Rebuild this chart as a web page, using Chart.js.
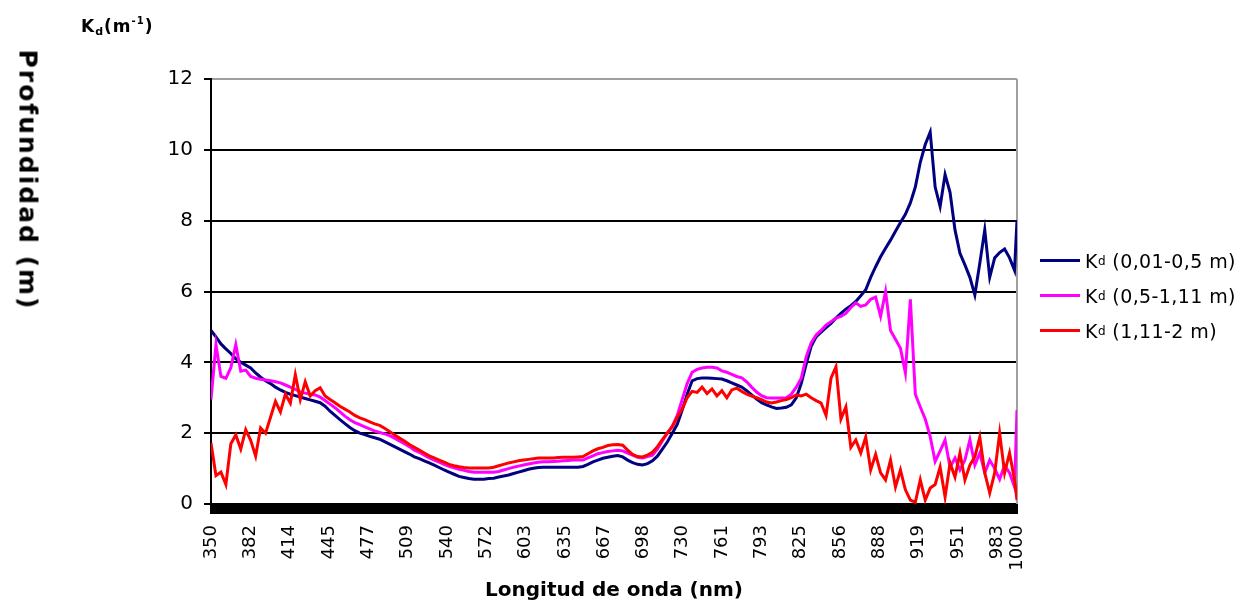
<!DOCTYPE html>
<html>
<head>
<meta charset="utf-8">
<script src="https://cdn.jsdelivr.net/npm/chart.js@4"></script>
<style>
  body { margin: 0; background: #fff; }
  #wrap { position: relative; width: 1249px; height: 604px; overflow: hidden; }
  #grafico { position: absolute; left: 0; top: 0; }
  .ytitle {
    position: absolute; left: 28px; top: 180px;
    transform: translate(-50%, -50%) rotate(90deg);
    font: bold 25px "DejaVu Sans", sans-serif; letter-spacing: 2px; white-space: pre; color: #000;
  }
  .unidad { position: absolute; left: 81px; top: 15px; font: bold 17px "DejaVu Sans", sans-serif; color: #000; letter-spacing: 1px; }
  .unidad sub { font-size: 11px; vertical-align: -3px; }
  .unidad sup { font-size: 10px; vertical-align: 8px; }
  .leyenda { position: absolute; left: 1040px; top: 243px; font: 19px "DejaVu Sans", sans-serif; letter-spacing: 0.4px; color: #000; }
  .leyenda div { height: 35px; display: flex; align-items: center; white-space: nowrap; }
  .leyenda span.linea { display: inline-block; width: 40px; height: 3px; margin-right: 5px; }
  .leyenda sub { font-size: 12px; vertical-align: -6px; }
</style>
</head>
<body>
<div id="wrap">
  <canvas id="grafico" width="1249" height="604"></canvas>
  <div class="ytitle">Profundidad (m)</div>
  <div class="unidad">K<sub>d</sub>(m<sup>-1</sup>)</div>
  <div class="leyenda" id="leyenda"></div>
</div>
<script>
// longitudes de onda (nm)
const longitudes = [
  350, 354, 358, 362, 366, 370, 374, 378, 382, 386, 390, 394, 398, 402, 406, 410, 414, 418, 422, 426,
  430, 434, 438, 442, 446, 450, 454, 458, 462, 466, 470, 474, 478, 482, 486, 490, 494, 498, 502, 506,
  510, 514, 518, 522, 526, 530, 534, 538, 542, 546, 550, 554, 558, 562, 566, 570, 574, 578, 582, 586,
  590, 594, 598, 602, 606, 610, 614, 618, 622, 626, 630, 634, 638, 642, 646, 650, 654, 658, 662, 666,
  670, 674, 678, 682, 686, 690, 694, 698, 702, 706, 710, 714, 718, 722, 726, 730, 734, 738, 742, 746,
  750, 754, 758, 762, 766, 770, 774, 778, 782, 786, 790, 794, 798, 802, 806, 810, 814, 818, 822, 826,
  830, 834, 838, 842, 846, 850, 854, 858, 862, 866, 870, 874, 878, 882, 886, 890, 894, 898, 902, 906,
  910, 914, 918, 922, 926, 930, 934, 938, 942, 946, 950, 954, 958, 962, 966, 970, 974, 978, 982, 986,
  990, 994, 998, 1000
];

// Kd 0,01-0,5 m
const kdSup = [
  4.90, 4.72, 4.52, 4.38, 4.25, 4.10, 4.00, 3.92, 3.84, 3.70, 3.58, 3.48, 3.40, 3.30, 3.22, 3.15, 3.10, 3.06, 3.02, 2.98,
  2.94, 2.90, 2.86, 2.76, 2.62, 2.50, 2.38, 2.27, 2.16, 2.07, 2.00, 1.96, 1.91, 1.87, 1.83, 1.76, 1.69, 1.62, 1.55, 1.48,
  1.41, 1.33, 1.28, 1.22, 1.16, 1.10, 1.03, 0.96, 0.90, 0.84, 0.78, 0.75, 0.72, 0.70, 0.70, 0.70, 0.72, 0.73, 0.76, 0.79,
  0.82, 0.86, 0.90, 0.94, 0.98, 1.01, 1.03, 1.04, 1.04, 1.04, 1.04, 1.04, 1.04, 1.04, 1.04, 1.06, 1.12, 1.19, 1.24, 1.29,
  1.32, 1.35, 1.37, 1.33, 1.24, 1.17, 1.12, 1.10, 1.14, 1.22, 1.35, 1.55, 1.75, 2.00, 2.25, 2.65, 3.10, 3.48, 3.54, 3.56,
  3.56, 3.55, 3.54, 3.53, 3.48, 3.42, 3.36, 3.30, 3.20, 3.08, 2.96, 2.86, 2.80, 2.74, 2.70, 2.71, 2.73, 2.80, 3.00, 3.40,
  3.95, 4.45, 4.72, 4.85, 4.98, 5.10, 5.25, 5.38, 5.50, 5.60, 5.72, 5.88, 6.05, 6.40, 6.70, 6.98, 7.22, 7.45, 7.70, 7.95,
  8.18, 8.50, 8.95, 9.65, 10.15, 10.50, 8.95, 8.40, 9.30, 8.80, 7.74, 7.08, 6.75, 6.40, 5.90, 6.80, 7.74, 6.40, 6.95, 7.10,
  7.20, 6.95, 6.60, 8.02
];

// Kd 0,5-1,11 m
const kdMed = [
  2.95, 4.50, 3.60, 3.55, 3.85, 4.50, 3.75, 3.78, 3.60, 3.55, 3.52, 3.50, 3.48, 3.45, 3.42, 3.36, 3.30, 3.24, 3.16, 3.13,
  3.10, 3.08, 3.02, 2.92, 2.82, 2.72, 2.60, 2.48, 2.38, 2.30, 2.24, 2.18, 2.12, 2.06, 2.02, 1.98, 1.93, 1.86, 1.78, 1.70,
  1.62, 1.52, 1.46, 1.38, 1.30, 1.24, 1.18, 1.12, 1.06, 1.02, 0.98, 0.95, 0.92, 0.90, 0.90, 0.90, 0.90, 0.90, 0.92, 0.96,
  1.00, 1.04, 1.07, 1.10, 1.13, 1.16, 1.18, 1.19, 1.19, 1.20, 1.21, 1.22, 1.23, 1.24, 1.24, 1.24, 1.30, 1.36, 1.42, 1.45,
  1.48, 1.50, 1.52, 1.50, 1.44, 1.38, 1.32, 1.30, 1.34, 1.38, 1.55, 1.78, 2.00, 2.20, 2.50, 2.95, 3.40, 3.72, 3.80, 3.84,
  3.86, 3.86, 3.84, 3.76, 3.72, 3.66, 3.60, 3.56, 3.45, 3.30, 3.16, 3.06, 3.00, 2.99, 2.99, 2.99, 3.00, 3.10, 3.30, 3.55,
  4.15, 4.55, 4.77, 4.90, 5.05, 5.15, 5.25, 5.30, 5.38, 5.55, 5.68, 5.58, 5.62, 5.78, 5.84, 5.30, 6.00, 4.90, 4.65, 4.40,
  3.70, 5.78, 3.10, 2.74, 2.40, 1.90, 1.20, 1.50, 1.81, 1.04, 1.30, 0.96, 1.24, 1.81, 1.10, 1.44, 0.88, 1.24, 1.00, 0.70,
  1.10, 0.88, 0.48, 2.65
];

// Kd 1,11-2 m
const kdInf = [
  1.72, 0.80, 0.90, 0.55, 1.70, 1.95, 1.55, 2.10, 1.80, 1.35, 2.15, 2.00, 2.45, 2.90, 2.60, 3.10, 2.85, 3.65, 2.95, 3.45,
  3.05, 3.20, 3.28, 3.05, 2.95, 2.86, 2.76, 2.68, 2.60, 2.50, 2.43, 2.38, 2.32, 2.26, 2.22, 2.14, 2.05, 1.95, 1.86, 1.78,
  1.68, 1.60, 1.52, 1.44, 1.36, 1.30, 1.24, 1.18, 1.12, 1.08, 1.05, 1.03, 1.02, 1.02, 1.02, 1.02, 1.02, 1.04, 1.08, 1.12,
  1.16, 1.19, 1.22, 1.24, 1.26, 1.28, 1.30, 1.30, 1.30, 1.30, 1.31, 1.32, 1.32, 1.32, 1.33, 1.34, 1.42, 1.50, 1.56, 1.60,
  1.65, 1.67, 1.68, 1.66, 1.52, 1.40, 1.34, 1.33, 1.38, 1.46, 1.62, 1.82, 2.00, 2.18, 2.45, 2.68, 3.00, 3.18, 3.15, 3.30,
  3.12, 3.25, 3.05, 3.20, 3.00, 3.22, 3.27, 3.18, 3.10, 3.05, 3.00, 2.95, 2.88, 2.85, 2.88, 2.92, 2.95, 3.00, 3.08, 3.05,
  3.10, 3.00, 2.92, 2.85, 2.50, 3.55, 3.87, 2.40, 2.74, 1.60, 1.81, 1.44, 1.89, 0.96, 1.40, 0.88, 0.68, 1.24, 0.48, 0.96,
  0.40, 0.11, 0.05, 0.68, 0.11, 0.45, 0.55, 1.04, 0.20, 1.16, 0.76, 1.44, 0.68, 1.10, 1.33, 1.89, 0.88, 0.31, 0.88, 2.00,
  0.88, 1.44, 0.68, 0.11
];

// rótulos del eje x (uno cada 20 divisiones, más el final)
const rotulosX = ["350", "382", "414", "445", "477", "509", "540", "572", "603", "635", "667",
  "698", "730", "761", "793", "825", "856", "888", "919", "951", "983", "1000"];

const series = [
  { label: "(0,01-0,5 m)", data: kdSup, color: "#000080", order: 3 },
  { label: "(0,5-1,11 m)", data: kdMed, color: "#ff00ff", order: 2 },
  { label: "(1,11-2 m)", data: kdInf, color: "#ff0000", order: 1 },
];

const fuente = '"DejaVu Sans", sans-serif';
const nDiv = 410;

// leyenda
const leyenda = document.getElementById("leyenda");
series.forEach(s => {
  const fila = document.createElement("div");
  fila.innerHTML = `<span class="linea" style="background:${s.color}"></span>K<sub>d</sub>&nbsp;${s.label}`;
  leyenda.appendChild(fila);
});

// borde derecho gris del área de trazado
const bordeDerecho = {
  id: "bordeDerecho",
  beforeDatasetsDraw(chart) {
    const { ctx, chartArea } = chart;
    ctx.save();
    ctx.strokeStyle = "#a0a0a0";
    ctx.lineWidth = 2;
    ctx.beginPath();
    ctx.moveTo(chartArea.right, chartArea.top);
    ctx.lineTo(chartArea.right, chartArea.bottom);
    ctx.stroke();
    ctx.restore();
  }
};

const ctx = document.getElementById("grafico").getContext("2d");
new Chart(ctx, {
  type: "line",
  data: {
    datasets: series.map(s => ({
      label: s.label,
      data: longitudes.map((x, i) => ({ x: x, y: s.data[i] })),
      borderColor: s.color,
      backgroundColor: s.color,
      borderWidth: 3,
      pointRadius: 0,
      tension: 0,
      order: s.order,
    })),
  },
  options: {
    responsive: false,
    animation: false,
    layout: { padding: { left: 0, right: 232, top: 79, bottom: 0 } },
    plugins: {
      legend: { display: false },
      tooltip: { enabled: false },
    },
    scales: {
      x: {
        type: "linear",
        min: 350,
        max: 1000,
        afterBuildTicks: axis => {
          const marcas = [];
          for (let i = 0; i <= nDiv; i++) marcas.push({ value: 350 + (650 * i) / nDiv });
          axis.ticks = marcas;
        },
        afterFit: s => { s.height = 100; },
        ticks: {
          autoSkip: false,
          minRotation: 90,
          maxRotation: 90,
          padding: 11,
          color: "#000",
          font: { family: fuente, size: 18 },
          callback: (v, i) => {
            if (i === nDiv) return rotulosX[rotulosX.length - 1];
            return i % 20 === 0 ? rotulosX[i / 20] : "";
          },
        },
        grid: { drawOnChartArea: false, drawTicks: true, tickLength: 10, color: "#000", lineWidth: 2 },
        border: { color: "#000", width: 2 },
        title: {
          display: true,
          text: "Longitud de onda (nm)",
          color: "#000",
          font: { family: fuente, size: 20, weight: "bold" },
          padding: { top: 0, bottom: 1 },
        },
      },
      y: {
        min: 0,
        max: 12,
        afterFit: s => { s.width = 211; },
        ticks: { stepSize: 2, padding: 11, color: "#000", font: { family: fuente, size: 20 } },
        grid: {
          color: c => (c.tick && c.tick.value === 12 ? "#a0a0a0" : "#000"),
          tickColor: "#000",
          lineWidth: 2,
          tickLength: 7,
        },
        border: { color: "#000", width: 2 },
      },
    },
  },
  plugins: [bordeDerecho],
});
</script>
</body>
</html>
